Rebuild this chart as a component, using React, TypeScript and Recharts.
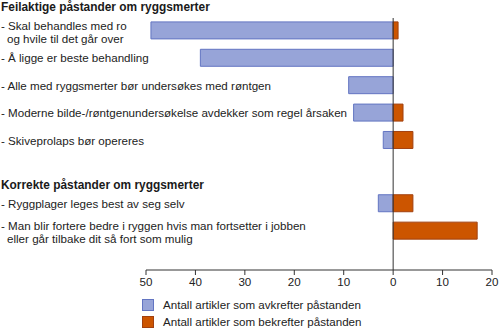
import React from "react";
import { BarChart, Bar, XAxis, YAxis, ReferenceLine, Legend } from "recharts";

const groupTitles = [
  "Feilaktige påstander om ryggsmerter",
  "Korrekte påstander om ryggsmerter",
];

const statements: string[][] = [
  ["- Skal behandles med ro", "og hvile til det går over"],
  ["- Å ligge er beste behandling"],
  ["- Alle med ryggsmerter bør undersøkes med røntgen"],
  ["- Moderne bilde-/røntgenundersøkelse avdekker som regel årsaken"],
  ["- Skiveprolaps bør opereres"],
  ["- Ryggplager leges best av seg selv"],
  [
    "- Man blir fortere bedre i ryggen hvis man fortsetter i jobben",
    "eller går tilbake dit så fort som mulig",
  ],
];

const statementGroup = [0, 0, 0, 0, 0, 1, 1];

const avkrefter = [49, 39, 9, 8, 2, 3, 0];
const bekrefter = [1, 0, 0, 2, 4, 4, 17];

const xTicks = [-50, -40, -30, -20, -10, 0, 10, 20];

const seriesNames = [
  "Antall artikler som avkrefter påstanden",
  "Antall artikler som bekrefter påstanden",
];

const GROUP_GAP = 1.31;
const BLUE = "#97a4d8";
const BLUE_EDGE = "#6375c2";
const ORANGE = "#cc5500";
const ORANGE_EDGE = "#a2400f";
const FONT = "'Liberation Sans', Arial, sans-serif";
const FS = 11.6;

const data = statements.map((lines, i) => ({
  pos: i + statementGroup[i] * GROUP_GAP,
  lines,
  group: statementGroup[i],
  first: i === 0 || statementGroup[i] !== statementGroup[i - 1],
  avkrefter: -avkrefter[i],
  bekrefter: bekrefter[i],
}));

const YTick = (props: any) => {
  const { y, payload } = props;
  const row = data.find((d) => Math.abs(d.pos - payload.value) < 1e-6);
  if (!row) return null;
  const n = row.lines.length;
  const lineH = 13.5;
  const startY = n === 1 ? y : y - 5.5;
  return (
    <g>
      {row.first && (
        <text
          x={1}
          y={startY - 18}
          dominantBaseline="central"
          fontFamily={FONT}
          fontSize={11.9}
          fontWeight="bold"
          fill="#1a1a1a"
        >
          {groupTitles[row.group]}
        </text>
      )}
      {row.lines.map((l: string, k: number) => (
        <text
          key={k}
          x={k === 0 ? 1 : 7}
          y={startY + k * lineH}
          dominantBaseline="central"
          fontFamily={FONT}
          fontSize={FS}
          fill="#222"
        >
          {l}
        </text>
      ))}
    </g>
  );
};

const LegendContent = () => (
  <div style={{ fontFamily: FONT, fontSize: FS, color: "#222" }}>
    {seriesNames.map((name, i) => (
      <div
        key={i}
        style={{ display: "flex", alignItems: "center", height: 17 }}
      >
        <span
          style={{
            display: "inline-block",
            width: 10,
            height: 10,
            background: i === 0 ? BLUE : ORANGE,
            border: `1px solid ${i === 0 ? BLUE_EDGE : ORANGE_EDGE}`,
            marginRight: 9,
          }}
        />
        <span>{name}</span>
      </div>
    ))}
  </div>
);

export default function App() {
  return (
    <div style={{ position: "absolute", left: 0, top: 0 }}>
      <BarChart
        width={500}
        height={328}
        data={data}
        layout="vertical"
        stackOffset="sign"
        margin={{ top: 18, right: 8, bottom: 28, left: 0 }}
      >
        <XAxis
          type="number"
          domain={[-50, 20]}
          ticks={xTicks}
          allowDataOverflow
          tickFormatter={(v: number) => String(Math.abs(v))}
          axisLine={{ stroke: "#333" }}
          tickLine={{ stroke: "#333" }}
          tickSize={5}
          tickMargin={3}
          height={30}
          tick={{ fontFamily: FONT, fontSize: FS, fill: "#222" }}
        />
        <YAxis
          type="number"
          dataKey="pos"
          domain={[-0.46, 8.74]}
          allowDataOverflow
          ticks={data.map((d) => d.pos)}
          width={146}
          axisLine={false}
          tickLine={false}
          tick={<YTick />}
          interval={0}
        />
        <Bar
          dataKey="avkrefter"
          name={seriesNames[0]}
          stackId="a"
          fill={BLUE}
          stroke={BLUE_EDGE}
          strokeWidth={1}
          barSize={17}
          isAnimationActive={false}
        />
        <Bar
          dataKey="bekrefter"
          name={seriesNames[1]}
          stackId="a"
          fill={ORANGE}
          stroke={ORANGE_EDGE}
          strokeWidth={1}
          barSize={17}
          isAnimationActive={false}
        />
        <ReferenceLine x={0} stroke="#333" strokeWidth={1} />
        <Legend
          layout="vertical"
          verticalAlign="middle"
          align="center"
          content={<LegendContent />}
          wrapperStyle={{ left: 142, top: 296, width: 320 }}
        />
      </BarChart>
    </div>
  );
}
